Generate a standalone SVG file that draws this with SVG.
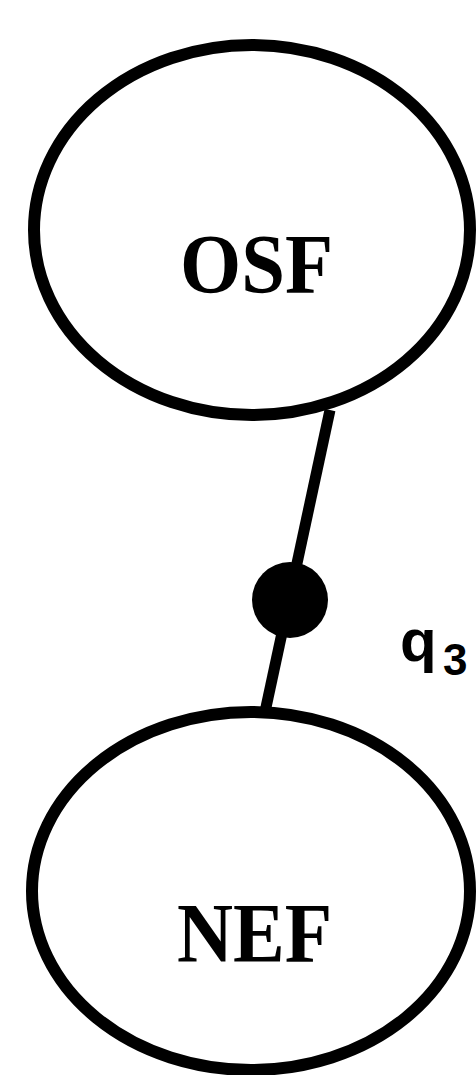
<svg xmlns="http://www.w3.org/2000/svg" width="476" height="1075" viewBox="0 0 476 1075">
<style>
.node{fill:#fff;stroke:#000;stroke-width:12}
.lbl{font-family:"Liberation Serif","Times New Roman",serif;font-weight:bold;font-size:84px;fill:#000}
.edge{stroke:#000;stroke-width:11;fill:none}
.q{font-family:"Liberation Sans",Arial,sans-serif;font-weight:bold;fill:#000}
</style>
<rect width="476" height="1075" fill="#fff"/>
<g id="connectors">
<line class="edge" x1="330" y1="410" x2="265" y2="712"/>
<circle cx="290" cy="600" r="38" fill="#000"/>
<text class="q" x="400" y="661" font-size="60">q<tspan font-size="44" x="443" y="675">3</tspan></text>
</g>
<g id="OSF">
<ellipse class="node" cx="252" cy="230" rx="218" ry="185"/>
<text class="lbl" x="180" y="293" textLength="153" lengthAdjust="spacingAndGlyphs">OSF</text>
</g>
<g id="NEF">
<ellipse class="node" cx="251" cy="891" rx="219" ry="179"/>
<text class="lbl" x="177" y="962" textLength="155" lengthAdjust="spacingAndGlyphs">NEF</text>
</g>
</svg>
